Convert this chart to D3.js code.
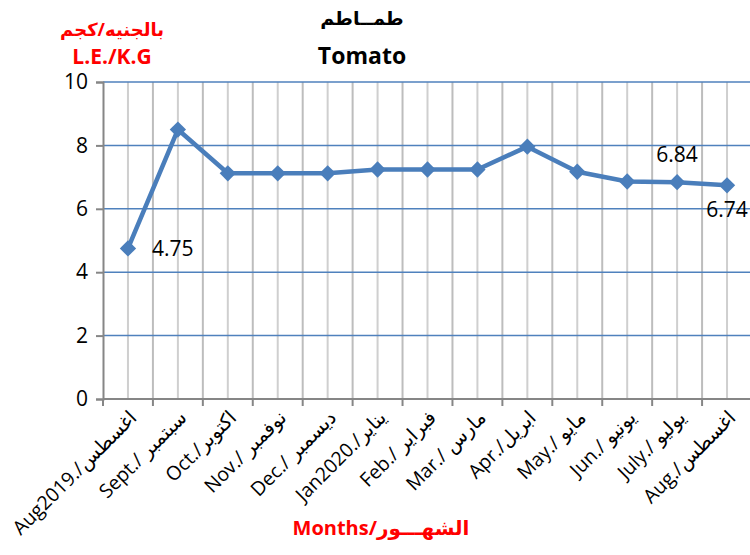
<!DOCTYPE html>
<html>
<head>
<meta charset="utf-8">
<script src="https://cdn.jsdelivr.net/npm/d3@7"></script>
<style>
  body { margin: 0; background: #fff; }
  svg { font-family: "Open Sans", "DejaVu Sans", sans-serif; overflow: hidden; }
</style>
</head>
<body>
<div id="chart"></div>
<script>
// Data
const months = [
    "Aug2019./اغسطس", "Sept./ سبتمبر", "Oct./اكتوبر", "Nov./ نوفمبر", "Dec./ ديسمبر",
    "Jan2020./يناير", "Feb./ فبراير", "Mar./ مارس", "Apr./ابريل", "May./ مايو",
    "Jun./ يونيو", "July./ يوليو", "Aug./اغسطس"
];
const prices = [4.75, 8.5, 7.12, 7.12, 7.12, 7.24, 7.24, 7.24, 7.96, 7.17, 6.86, 6.84, 6.74];
const yTicks = [0, 2, 4, 6, 8, 10];
// which points carry a value label, and where
const labelled = [
    { i: 0, pos: "right" },
    { i: 11, pos: "above" },
    { i: 12, pos: "below" }
];

const chartWidth = 750;
const chartHeight = 555;
const margin = { top: 82, right: -2, bottom: 156, left: 103 };
const width = chartWidth - margin.left - margin.right;
const height = chartHeight - margin.top - margin.bottom;

const svgRoot = d3.select("#chart")
    .append("svg")
    .attr("width", chartWidth)
    .attr("height", chartHeight);

const svg = svgRoot.append("g")
    .attr("transform", `translate(${margin.left}, ${margin.top})`);

// Scales
const xScale = d3.scaleBand()
    .domain(months)
    .range([0, width]);

const yScale = d3.scaleLinear()
    .domain([0, 10])
    .range([height, 0]);

const xc = d => xScale(d) + xScale.bandwidth() / 2;

// Vertical gridlines: at category boundaries and centres
svg.append("g")
    .selectAll("line.vb")
    .data(months.slice(1).concat(["__end"]))
    .join("line")
    .attr("class", "vb")
    .attr("x1", (d, i) => xScale.step() * (i + 1))
    .attr("x2", (d, i) => xScale.step() * (i + 1))
    .attr("y1", 0)
    .attr("y2", height)
    .attr("stroke", "#bdbdbd")
    .attr("stroke-width", 2);

svg.append("g")
    .selectAll("line.vc")
    .data(months)
    .join("line")
    .attr("class", "vc")
    .attr("x1", d => xc(d))
    .attr("x2", d => xc(d))
    .attr("y1", 0)
    .attr("y2", height)
    .attr("stroke", "#cfcfcf")
    .attr("stroke-width", 2);

// Horizontal gridlines
svg.append("g")
    .selectAll("line")
    .data(yTicks.filter(d => d > 0))
    .join("line")
    .attr("x1", 0)
    .attr("x2", width)
    .attr("y1", d => yScale(d))
    .attr("y2", d => yScale(d))
    .attr("stroke", "#4f81bd")
    .attr("stroke-width", 1.5);

// Y axis
const yAxis = d3.axisLeft(yScale)
    .tickValues(yTicks)
    .tickSize(7)
    .tickPadding(8);

const yG = svg.append("g").call(yAxis);
yG.select(".domain").attr("stroke", "#868686").attr("stroke-width", 2);
yG.selectAll(".tick line").attr("stroke", "#868686").attr("stroke-width", 2);
yG.selectAll(".tick text")
    .attr("font-size", 21)
    .attr("fill", "#000")
    .attr("font-family", "'Open Sans', sans-serif");

// X axis line with ticks at category boundaries
const xG = svg.append("g").attr("transform", `translate(0, ${height})`);
xG.append("line")
    .attr("x1", 0).attr("x2", width)
    .attr("stroke", "#868686").attr("stroke-width", 2);
xG.selectAll("line.t")
    .data(months.concat(["__end"]))
    .join("line")
    .attr("class", "t")
    .attr("x1", (d, i) => xScale.step() * i)
    .attr("x2", (d, i) => xScale.step() * i)
    .attr("y1", 0).attr("y2", 7)
    .attr("stroke", "#868686").attr("stroke-width", 2);

xG.selectAll("text")
    .data(months)
    .join("text")
    .attr("transform", d => `translate(${xc(d) + 5}, 15) rotate(-45)`)
    .attr("text-anchor", "end")
    .attr("dy", "0.35em")
    .attr("font-size", 19.5)
    .attr("fill", "#000")
    .text(d => d);

// Line and markers
const line = d3.line()
    .x((d, i) => xc(months[i]))
    .y(d => yScale(d));

svg.append("path")
    .datum(prices)
    .attr("fill", "none")
    .attr("stroke", "#4a7ebb")
    .attr("stroke-width", 4.5)
    .attr("stroke-linejoin", "round")
    .attr("d", line);

svg.append("g")
    .selectAll("path")
    .data(prices)
    .join("path")
    .attr("d", d3.symbol(d3.symbolDiamond2, 170))
    .attr("transform", (d, i) => `translate(${xc(months[i])}, ${yScale(d)})`)
    .attr("fill", "#4a7ebb");

// Value labels
svg.append("g")
    .selectAll("text")
    .data(labelled)
    .join("text")
    .attr("x", d => xc(months[d.i]) + (d.pos === "right" ? 24 : 0))
    .attr("y", d => yScale(prices[d.i]) + (d.pos === "above" ? -28 : d.pos === "below" ? 24 : 0))
    .attr("text-anchor", d => d.pos === "right" ? "start" : "middle")
    .attr("dy", "0.35em")
    .attr("font-size", 21)
    .attr("fill", "#000")
    .text(d => prices[d.i].toFixed(2));

// Titles
svgRoot.append("text")
    .attr("x", 362).attr("y", 25)
    .attr("text-anchor", "middle")
    .attr("font-size", 19).attr("font-weight", "bold")
    .text("طمــاطم");

svgRoot.append("text")
    .attr("x", 362).attr("y", 64)
    .attr("text-anchor", "middle")
    .attr("font-size", 23).attr("font-weight", "bold")
    .text("Tomato");

svgRoot.append("text")
    .attr("x", 112).attr("y", 36)
    .attr("text-anchor", "middle")
    .attr("font-size", 18).attr("font-weight", "bold")
    .attr("fill", "#ff0000")
    .text("بالجنيه/كجم");

svgRoot.append("text")
    .attr("x", 112).attr("y", 64)
    .attr("text-anchor", "middle")
    .attr("font-size", 21).attr("font-weight", "bold")
    .attr("fill", "#ff0000")
    .text("L.E./K.G");

svgRoot.append("text")
    .attr("x", 381).attr("y", 535)
    .attr("text-anchor", "middle")
    .attr("font-size", 20).attr("font-weight", "bold")
    .attr("fill", "#ff0000")
    .text("Months/الشهـــور");
</script>
</body>
</html>
